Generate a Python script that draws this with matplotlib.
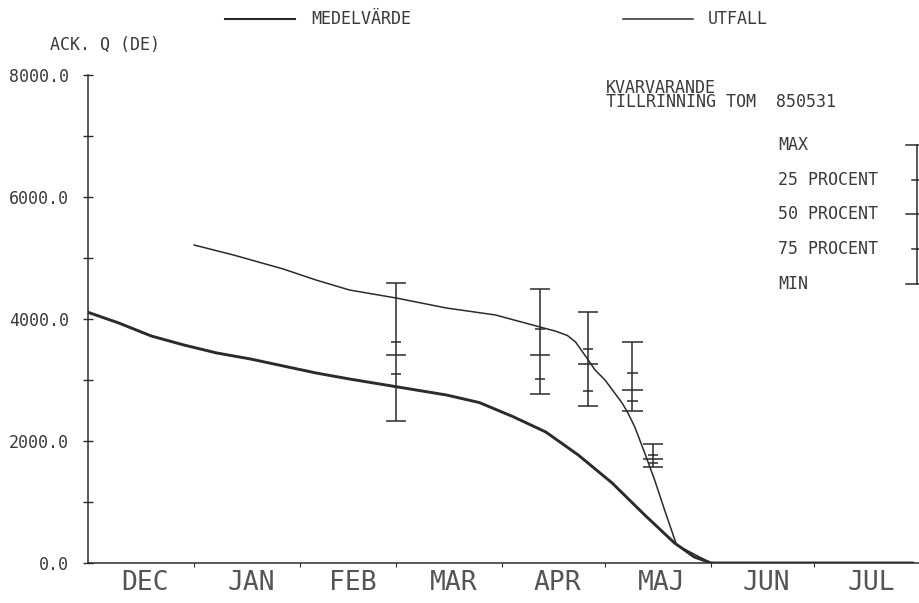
import numpy as np
import matplotlib
matplotlib.use("Agg")
import matplotlib.pyplot as plt
from matplotlib.lines import Line2D

# ==========================
# DATA (days counted from 1 Dec)
# ==========================
months = ["DEC", "JAN", "FEB", "MAR", "APR", "MAJ", "JUN", "JUL"]
month_days = [31, 31, 28, 31, 30, 31, 30, 31]

# mean remaining inflow (MEDELVÄRDE)
mean_day = [0, 9, 18.5, 28, 37.6, 47.5, 57, 66.6, 76.4, 90, 104.7, 114.3,
            124.1, 133.7, 143.2, 153.1, 162.6, 171.3, 177.1, 182, 241]
mean_val = [4110, 3934, 3721, 3574, 3443, 3344, 3230, 3115, 3016, 2890, 2754, 2630,
            2400, 2148, 1770, 1311, 787, 328, 98, 0, 0]

# outcome (UTFALL)
out_day = [31, 42.5, 57, 66.6, 76.4, 90, 104.7, 119, 132, 136.6, 140, 142.4, 146.1,
           148.1, 151, 156, 157.7, 159.7, 162.6, 165.5, 168.4, 171.9, 182, 241]
out_val = [5213, 5049, 4820, 4639, 4475, 4344, 4180, 4066, 3869, 3800, 3730, 3623, 3328,
           3164, 3000, 2623, 2459, 2230, 1803, 1361, 869, 295, 0, 0]

# forecast spread at forecast dates
fc_day = [90, 132, 146, 159, 165]
fc_max = [4590, 4492, 4115, 3623, 1951]
fc_p25 = [3623, 3836, 3508, 3115, 1770]
fc_p50 = [3410, 3410, 3262, 2836, 1705]
fc_p75 = [3098, 3016, 2820, 2656, 1640]
fc_min = [2328, 2770, 2574, 2492, 1574]

yticks = [0, 2000, 4000, 6000, 8000]
key_labels = ["MAX", "25 PROCENT", "50 PROCENT", "75 PROCENT", "MIN"]

INK = "#2b2b2b"
FONT = "DejaVu Sans Mono"

# ==========================
# FIGURE
# ==========================
fig = plt.figure(figsize=(9.2, 6.03), dpi=100)
ax = fig.add_axes([88 / 920, 40 / 603, 832 / 920, 488 / 603])

ax.plot(mean_day, mean_val, color=INK, lw=2.1, solid_joinstyle="round", solid_capstyle="round")
ax.plot(out_day, out_val, color=INK, lw=1.1, solid_joinstyle="round")

# error bars
cap = 3.0
small = 1.5
ax.vlines(fc_day, fc_min, fc_max, color=INK, lw=1.1)
for d, mx, a, b, c, mn in zip(fc_day, fc_max, fc_p25, fc_p50, fc_p75, fc_min):
    ax.hlines([mx, b, mn], d - cap, d + cap, color=INK, lw=1.1)
    ax.hlines([a, c], d - small, d + small, color=INK, lw=1.1)

# axes
ax.set_xlim(0, 240.7)
ax.set_ylim(0, 8000)
for s in ["top", "right"]:
    ax.spines[s].set_visible(False)
for s in ["left", "bottom"]:
    ax.spines[s].set_color(INK)
    ax.spines[s].set_linewidth(1.1)

bounds = np.cumsum([0] + month_days)
mids = (bounds[:-1] + bounds[1:]) / 2 + 1.2
ax.set_xticks(bounds[1:])
ax.set_xticklabels([])
ax.set_xticks(mids, minor=True)
ax.set_xticklabels(months, minor=True, fontfamily=FONT, fontsize=19, color="#555")
ax.tick_params(axis="x", which="major", length=3, direction="out", color=INK)
ax.tick_params(axis="x", which="minor", length=0, pad=5)

ax.set_yticks(yticks)
ax.set_yticklabels([f"{v:.1f}" for v in yticks], fontfamily=FONT, fontsize=12, color="#3a3a3a")
ax.set_yticks(np.arange(1000, 8000, 2000), minor=True)
ax.tick_params(axis="y", which="both", length=7, direction="inout", color=INK, width=1.0, pad=10)

# ==========================
# TEXTS AND KEYS
# ==========================
def fx(px):
    return px / 920

def fy(py):
    return 1 - py / 603

tkw = dict(fontfamily=FONT, fontsize=12, color="#3a3a3a", va="center")

fig.add_artist(Line2D([fx(225), fx(295)], [fy(19), fy(19)], color=INK, lw=1.5))
fig.text(fx(311), fy(19), "MEDELVÄRDE", **tkw)
fig.add_artist(Line2D([fx(623), fx(693)], [fy(19), fy(19)], color=INK, lw=1.1))
fig.text(fx(708), fy(19), "UTFALL", **tkw)

fig.text(fx(50), fy(45), "ACK. Q (DE)", **tkw)
fig.text(fx(606), fy(95), "KVARVARANDE\nTILLRINNING TOM  850531",
         linespacing=0.7, **tkw)

key_y = [145, 180, 214, 249, 284]
for lab, py in zip(key_labels, key_y):
    fig.text(fx(778), fy(py), lab, **tkw)
bx = 917
fig.add_artist(Line2D([fx(bx), fx(bx)], [fy(145), fy(284)], color=INK, lw=1.1))
for i, py in enumerate(key_y):
    left = 906 if i in (0, 2, 4) else 912
    fig.add_artist(Line2D([fx(left), fx(920)], [fy(py), fy(py)], color=INK, lw=1.1))

fig.savefig("out.png", dpi=100, facecolor="white")
